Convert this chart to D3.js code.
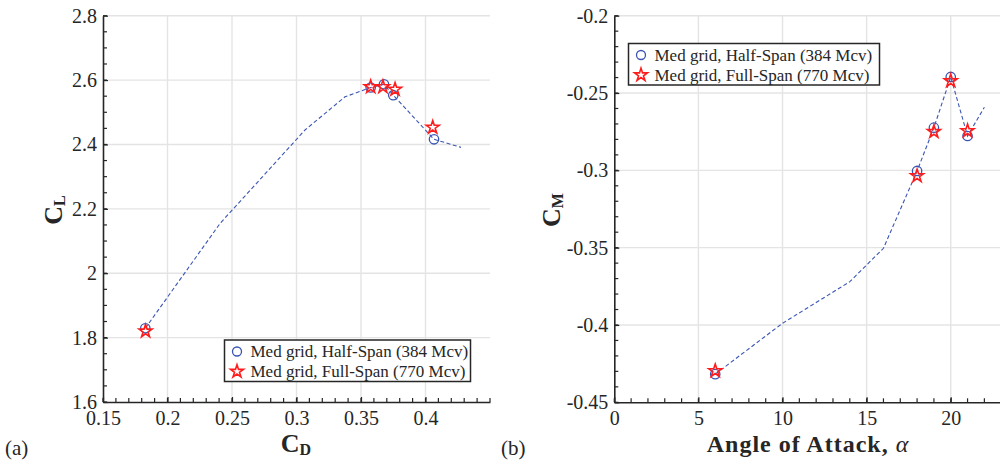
<!DOCTYPE html>
<html lang="en">
<head>
<meta charset="UTF-8">
<title>CL-CD and CM-alpha</title>
<script src="https://cdn.jsdelivr.net/npm/d3@7"></script>
<style>
  body { margin: 0; background: #fff; }
  text { font-family: "Liberation Serif", "DejaVu Serif", serif; fill: #262626; }
</style>
</head>
<body>
<script>
// dashed reference line (all angles)
var alphaLine = [6, 10, 14, 16, 18, 19, 20, 21, 22]
var cdLine = [0.1828, 0.2408, 0.3066, 0.3376, 0.3575, 0.3678, 0.375, 0.4066, 0.4275]
var clLine = [1.829, 2.155, 2.445, 2.548, 2.577, 2.587, 2.553, 2.416, 2.391]
var cmLine = [-0.4318, -0.3989, -0.372, -0.3504, -0.3004, -0.2724, -0.2396, -0.2778, -0.2592]

// Med grid, half-span markers
var alphaHalf = [6, 18, 19, 20, 21]
var cdHalf = [0.1828, 0.3575, 0.3678, 0.375, 0.4066]
var clHalf = [1.829, 2.577, 2.587, 2.553, 2.416]
var cmHalf = [-0.4318, -0.3004, -0.2724, -0.2396, -0.2778]

// Med grid, full-span markers
var alphaFull = [6, 18, 19, 20, 21]
var cdFull = [0.183, 0.3575, 0.367, 0.3764, 0.4056]
var clFull = [1.820, 2.579, 2.579, 2.571, 2.453]
var cmFull = [-0.4297, -0.3036, -0.275, -0.2422, -0.2745]

var legendLabels = ['Med grid, Half-Span (384 Mcv)', 'Med grid, Full-Span (770 Mcv)']

var xTicksA = [0.15, 0.2, 0.25, 0.3, 0.35, 0.4]
var yTicksA = [1.6, 1.8, 2, 2.2, 2.4, 2.6, 2.8]
var xTicksB = [0, 5, 10, 15, 20]
var yTicksB = [-0.45, -0.4, -0.35, -0.3, -0.25, -0.2]

var blue = '#3a55b4', red = '#ff1c1c', gridCol = '#e4e4e4'

var svg = d3.select('body').append('svg').attr('width', 1000).attr('height', 465)
svg.append('rect').attr('width', 1000).attr('height', 465).attr('fill', '#fff')

function panel(opt) {
    var x = d3.scaleLinear().domain(opt.xDom).range(opt.xRange)
    var y = d3.scaleLinear().domain(opt.yDom).range(opt.yRange)
    var g = svg.append('g')

    // grid
    g.append('g').selectAll('line').data(opt.xTicks.filter(d => d != opt.xDom[0])).enter().append('line')
        .attr('x1', d => x(d)).attr('x2', d => x(d)).attr('y1', y.range()[0]).attr('y2', y.range()[1])
        .attr('stroke', gridCol).attr('stroke-width', 1.4)
    g.append('g').selectAll('line').data(opt.yTicks.filter(d => d != opt.yDom[0])).enter().append('line')
        .attr('y1', d => y(d)).attr('y2', d => y(d)).attr('x1', x.range()[0]).attr('x2', x.range()[1])
        .attr('stroke', gridCol).attr('stroke-width', 1.4)

    // minor ticks
    var xm = d3.range(opt.xDom[0], opt.xDom[1] + 1e-9, opt.xMinor)
    var ym = d3.range(opt.yDom[0], opt.yDom[1] + 1e-9, opt.yMinor)
    g.append('g').selectAll('line').data(xm).enter().append('line')
        .attr('x1', d => x(d)).attr('x2', d => x(d)).attr('y1', y.range()[0]).attr('y2', y.range()[0] - 4)
        .attr('stroke', '#262626').attr('stroke-width', 1.2)
    g.append('g').selectAll('line').data(ym).enter().append('line')
        .attr('y1', d => y(d)).attr('y2', d => y(d)).attr('x1', x.range()[0]).attr('x2', x.range()[0] + 4)
        .attr('stroke', '#262626').attr('stroke-width', 1.2)

    // axes
    g.append('g').attr('transform', `translate(0,${y.range()[0]})`)
        .call(d3.axisBottom(x).tickValues(opt.xTicks).tickFormat(d3.format('')).tickSizeInner(-5).tickSizeOuter(0).tickPadding(9))
    g.append('g').attr('transform', `translate(${x.range()[0]},0)`)
        .call(d3.axisLeft(y).tickValues(opt.yTicks).tickFormat(d => d3.format('')(d).replace('−', '-')).tickSizeInner(-5).tickSizeOuter(0).tickPadding(6))
    g.selectAll('.domain').attr('stroke', '#262626').attr('stroke-width', 1.6)
    g.selectAll('.tick line').attr('stroke', '#262626').attr('stroke-width', 1.2)
    g.selectAll('.tick text').attr('font-size', 20).attr('fill', '#262626')

    // dashed line
    var pts = d3.zip(opt.lineX, opt.lineY)
    g.append('path').datum(pts)
        .attr('d', d3.line().x(d => x(d[0])).y(d => y(d[1])))
        .attr('fill', 'none').attr('stroke', blue).attr('stroke-width', 1.1).attr('stroke-dasharray', '4,2.5')

    // markers
    g.append('g').selectAll('circle').data(d3.zip(opt.halfX, opt.halfY)).enter().append('circle')
        .attr('cx', d => x(d[0])).attr('cy', d => y(d[1])).attr('r', 4.7)
        .attr('fill', 'none').attr('stroke', blue).attr('stroke-width', 1.3)
    var star = d3.symbol().type(d3.symbolStar).size(52)
    g.append('g').selectAll('path').data(d3.zip(opt.fullX, opt.fullY)).enter().append('path')
        .attr('d', star).attr('transform', d => `translate(${x(d[0])},${y(d[1])})`)
        .attr('fill', 'none').attr('stroke', red).attr('stroke-width', 1.6).attr('stroke-linejoin', 'miter')

    // legend
    var lg = g.append('g').attr('transform', `translate(${opt.leg[0]},${opt.leg[1]})`)
    lg.append('rect').attr('width', opt.leg[2]).attr('height', 41.5)
        .attr('fill', '#fff').attr('stroke', '#262626').attr('stroke-width', 1.5)
    legendLabels.forEach(function(t, i) {
        var cy = 11.5 + i * 20
        if (i == 0) lg.append('circle').attr('cx', 12.5).attr('cy', cy).attr('r', 4.5)
            .attr('fill', 'none').attr('stroke', blue).attr('stroke-width', 1.3)
        else lg.append('path').attr('d', star).attr('transform', `translate(12.5,${cy})`)
            .attr('fill', 'none').attr('stroke', red).attr('stroke-width', 1.6)
        lg.append('text').attr('x', 26).attr('y', cy).attr('dy', '0.33em')
            .attr('font-size', 17).text(t)
    })
    return g
}

panel({
    xDom: [0.15, 0.45], xRange: [103, 490], yDom: [1.6, 2.8], yRange: [402, 15.7],
    xTicks: xTicksA, yTicks: yTicksA, xMinor: 0.01, yMinor: 0.05,
    lineX: cdLine, lineY: clLine, halfX: cdHalf, halfY: clHalf, fullX: cdFull, fullY: clFull,
    leg: [224.5, 340, 246]
})
panel({
    xDom: [0, 23], xRange: [614.3, 1001.2], yDom: [-0.45, -0.2], yRange: [402.3, 15.7],
    xTicks: xTicksB, yTicks: yTicksB, xMinor: 1, yMinor: 0.01,
    lineX: alphaLine, lineY: cmLine, halfX: alphaHalf, halfY: cmHalf, fullX: alphaFull, fullY: cmFull,
    leg: [628.5, 43.5, 251]
})

// axis titles
function subLabel(x, y, main, sub, rot) {
    var t = svg.append('text').attr('transform', `translate(${x},${y})` + (rot ? ' rotate(-90)' : ''))
        .attr('text-anchor', 'middle').attr('font-weight', 'bold').attr('font-size', 26)
    t.append('tspan').text(main)
    t.append('tspan').attr('font-size', 16).attr('dy', 3).text(sub)
}
subLabel(296, 452, 'C', 'D', false)
subLabel(62, 210, 'C', 'L', true)
subLabel(560, 210, 'C', 'M', true)

var xl = svg.append('text').attr('x', 808).attr('y', 452).attr('text-anchor', 'middle')
    .attr('font-size', 24).attr('font-weight', 'bold').attr('letter-spacing', 1)
xl.append('tspan').text('Angle of Attack, ')
xl.append('tspan').attr('font-style', 'italic').attr('font-weight', 'normal').text('α')

svg.append('text').attr('x', 5).attr('y', 455).attr('font-size', 21).text('(a)')
svg.append('text').attr('x', 501).attr('y', 455).attr('font-size', 21).text('(b)')
</script>
</body>
</html>
